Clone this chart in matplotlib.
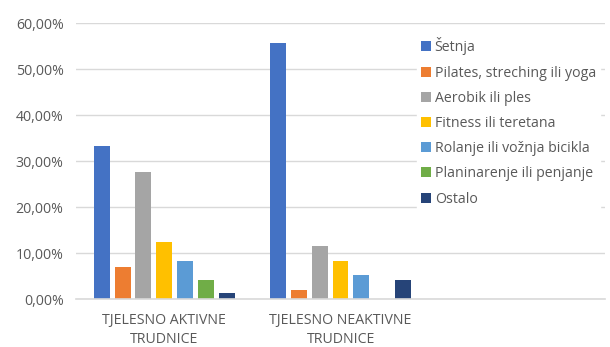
import numpy as np
import matplotlib.pyplot as plt
from matplotlib.ticker import FuncFormatter

categories = ["TJELESNO AKTIVNE\nTRUDNICE", "TJELESNO NEAKTIVNE\nTRUDNICE", ""]
series = ["Šetnja", "Pilates, streching ili yoga", "Aerobik ili ples",
          "Fitness ili teretana", "Rolanje ili vožnja bicikla",
          "Planinarenje ili penjanje", "Ostalo"]
colors = ["#4472C4", "#ED7D31", "#A5A5A5", "#FFC000", "#5B9BD5", "#70AD47", "#264478"]
# percentages per series: [aktivne, neaktivne, empty]
setnja = [33.3, 55.7, 0]
pilates = [6.9, 2.0, 0]
aerobik = [27.7, 11.5, 0]
fitness = [12.4, 8.3, 0]
rolanje = [8.2, 5.2, 0]
planinarenje = [4.1, 0.0, 0]
ostalo = [1.2, 4.1, 0]
values = [setnja, pilates, aerobik, fitness, rolanje, planinarenje, ostalo]

plt.rcParams['font.family'] = ['Open Sans', 'DejaVu Sans']

fig = plt.figure(figsize=(6.10, 3.47), dpi=100)
ax = fig.add_axes([0.1246, 0.1383, 0.8674, 0.7954])

x = np.arange(len(categories))
pitch = 0.118
width = 0.09
for i, (name, vals, c) in enumerate(zip(series, values, colors)):
    ax.bar(x + (i - 3) * pitch, vals, width, color=c, label=name, zorder=3)

ax.set_xlim(-0.5, 2.5)
ax.set_ylim(0, 60)
ax.set_yticks(np.arange(0, 61, 10))
ax.yaxis.set_major_formatter(FuncFormatter(lambda v, p: f"{v:.2f}".replace(".", ",") + "%"))
ax.set_xticks(x)
ax.set_xticklabels(categories, fontsize=10.2, color="#595959", linespacing=1.35)
ax.tick_params(axis='y', labelsize=10.2, labelcolor="#595959", length=0, pad=9)
ax.tick_params(axis='x', length=0, pad=10)
ax.grid(axis='y', color="#D9D9D9", linewidth=1, zorder=0)
for s in ["top", "right", "left"]:
    ax.spines[s].set_visible(False)
ax.spines["bottom"].set_color("#D9D9D9")
ax.spines["bottom"].set_linewidth(1.2)
ax.spines["bottom"].set_zorder(4)

leg = fig.legend(loc="upper left", bbox_to_anchor=(0.672, 0.925), frameon=True,
                 fontsize=10.2, labelcolor="#595959", handlelength=0.7, handleheight=0.7,
                 handletextpad=0.25, labelspacing=0.72, borderpad=0.3, edgecolor="white",
                 fancybox=False, framealpha=1)

fig.savefig("out.png", dpi=100)
